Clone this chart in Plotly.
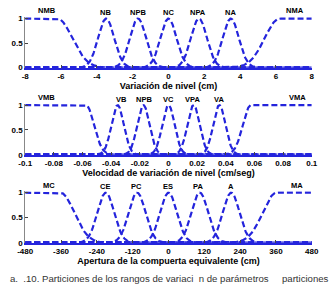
import numpy as np
import plotly.graph_objects as go

# ---- data (membership function parameters) ----
labels1 = ["NMB", "NB", "NPB", "NC", "NPA", "NA", "NMA"]
centers1 = [-6.2, -3.48, -1.7, 0.0, 1.7, 3.48, 6.2]
sigmas1 = [0.82, 0.45, 0.45, 0.45, 0.45, 0.45, 0.82]
labelx1 = [-6.8, -3.5, -1.7, 0.0, 1.65, 3.45, 7.05]
labely1 = [1.16, 1.12, 1.12, 1.12, 1.12, 1.12, 1.16]
ticks1 = [-8, -6, -4, -2, 0, 2, 4, 6, 8]
title1 = "Variación de nivel (cm)"

labels2 = ["VMB", "VB", "NPB", "VC", "VPA", "VA", "VMA"]
centers2 = [-0.0575, -0.0355, -0.0175, 0.0, 0.0175, 0.0355, 0.0575]
sigmas2 = [0.0055, 0.0043, 0.0043, 0.0043, 0.0043, 0.0043, 0.0055]
labelx2 = [-0.085, -0.033, -0.017, 0.0, 0.017, 0.035, 0.09]
labely2 = [1.15, 1.12, 1.12, 1.12, 1.12, 1.12, 1.15]
ticks2 = [-0.1, -0.08, -0.06, -0.04, -0.02, 0, 0.02, 0.04, 0.06, 0.08, 0.1]
ticktext2 = ["-0.1", "-0.08", "-0.06", "-0.04", "-0.02", "0", "0.02", "0.04", "0.06", "0.08", "0.1"]
title2 = "Velocidad de variación de nivel (cm/seg)"

labels3 = ["MC", "CE", "PC", "ES", "PA", "A", "MA"]
centers3 = [-362, -210, -105, 0, 105, 210, 362]
sigmas3 = [46, 28, 28, 28, 28, 28, 46]
labelx3 = [-400, -211, -106, 0, 100, 208, 432]
labely3 = [1.15, 1.12, 1.12, 1.12, 1.12, 1.12, 1.15]
ticks3 = [-480, -360, -240, -120, 0, 120, 240, 360, 480]
title3 = "Apertura de la compuerta equivalente (cm)"

caption = "a.  .10. Particiones de los rangos de variaci  n de parámetros     particiones"

# ---- layout geometry ----
W, H = 335, 290
YMAX = 1.03
xdom = [18 / W, 318 / W]
ydoms = [[1 - 66.5 / H, 1 - 14.5 / H], [1 - 156 / H, 1 - 103.5 / H], [1 - 246.5 / H, 1 - 193.5 / H]]
BLUE = "#2424dc"
FONT = "Liberation Sans, Arial, sans-serif"


def mf(x, c, s, kind):
    g = np.exp(-((x - c) ** 2) / (2 * s * s))
    if kind == "z":
        return np.where(x <= c, 1.0, g)
    if kind == "s":
        return np.where(x >= c, 1.0, g)
    return g


fig = go.Figure()
panels = [
    (labels1, centers1, sigmas1, labelx1, labely1, ticks1, [str(t) for t in ticks1], title1),
    (labels2, centers2, sigmas2, labelx2, labely2, ticks2, ticktext2, title2),
    (labels3, centers3, sigmas3, labelx3, labely3, ticks3, [str(t) for t in ticks3], title3),
]

for i, (labs, cs, ss, lx, ly, tk, tt, ttl) in enumerate(panels):
    xa = "x" if i == 0 else f"x{i+1}"
    ya = "y" if i == 0 else f"y{i+1}"
    x = np.linspace(tk[0], tk[-1], 801)
    n = len(cs)
    for j in range(n):
        kind = "z" if j == 0 else ("s" if j == n - 1 else "g")
        fig.add_trace(go.Scatter(x=x, y=mf(x, cs[j], ss[j], kind), mode="lines",
                                 line=dict(color=BLUE, width=2.2, dash="6px,3px"),
                                 xaxis=xa, yaxis=ya, showlegend=False, hoverinfo="skip"))
        fig.add_annotation(x=lx[j], y=ly[j] / YMAX, xref=xa, yref=ya + " domain",
                           text=f"<b>{labs[j]}</b>",
                           showarrow=False, font=dict(family=FONT, size=7.5, color="black"),
                           yanchor="middle")
    key = "" if i == 0 else str(i + 1)
    fig.layout["xaxis" + key] = dict(
        domain=xdom, anchor=ya, range=[tk[0], tk[-1]], tickvals=tk, ticktext=tt,
        ticks="inside", ticklen=3, tickcolor="#444", showline=True, linecolor=BLUE, linewidth=1.5,
        showgrid=False, zeroline=False, tickfont=dict(family=FONT, size=8, color="black", weight="bold"),
        title=dict(text=f"<b>{ttl}</b>", font=dict(family=FONT, size=9, color="black"), standoff=0),
    )
    fig.layout["yaxis" + key] = dict(
        domain=ydoms[i], anchor=xa, range=[0, YMAX], tickvals=[0, 0.5, 1], ticktext=["0", "0.5", "1"],
        ticks="inside", ticklen=3, tickcolor="#444", showline=True, linecolor="#888", linewidth=1,
        showgrid=False, zeroline=False, tickfont=dict(family=FONT, size=8, color="black", weight="bold"),
    )

fig.add_annotation(x=0, y=1 - 283 / H, xref="paper", yref="paper", xanchor="left", yanchor="middle",
                   text=caption, showarrow=False, font=dict(family=FONT, size=9.6, color="#333"))

fig.update_layout(width=W, height=H, margin=dict(l=0, r=0, t=0, b=0),
                  paper_bgcolor="white", plot_bgcolor="white")
fig.write_html("out.html")
